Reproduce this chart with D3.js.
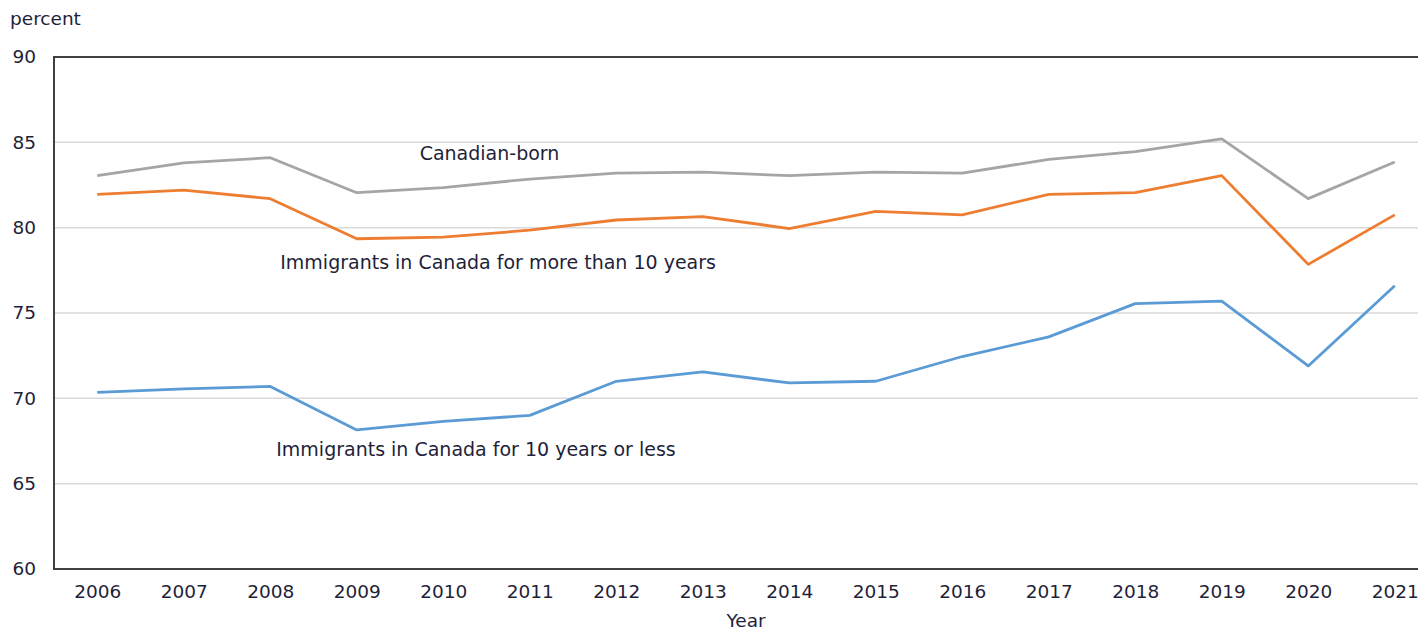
<!DOCTYPE html>
<html>
<head>
<meta charset="utf-8">
<script src="https://cdn.jsdelivr.net/npm/d3@7"></script>
<style>
html,body{margin:0;padding:0;background:#fff;overflow:hidden;}
svg{display:block;font-family:"DejaVu Sans",Verdana,sans-serif;}
</style>
</head>
<body>
<svg id="chart" width="1418" height="633"></svg>
<script>
const years = [2006,2007,2008,2009,2010,2011,2012,2013,2014,2015,2016,2017,2018,2019,2020,2021];
const canadianBorn = [83.05,83.8,84.1,82.05,82.35,82.85,83.2,83.25,83.05,83.25,83.2,84.0,84.45,85.2,81.7,83.85];
const immMore10 = [81.95,82.2,81.7,79.35,79.45,79.85,80.45,80.65,79.95,80.95,80.75,81.95,82.05,83.05,77.85,80.75];
const imm10Less = [70.35,70.55,70.7,68.15,68.65,69.0,71.0,71.55,70.9,71.0,72.45,73.6,75.55,75.7,71.9,76.6];
const yTicks = [60,65,70,75,80,85,90];
const seriesNames = ["Canadian-born","Immigrants in Canada for more than 10 years","Immigrants in Canada for 10 years or less"];
const colors = ["#a5a5a5","#ed7d31","#5b9bd5"];

const svg = d3.select("#chart");
const mLeft = 54, mRight = 1438, mTop = 57, mBottom = 569;
const fs = 18.5, txt = "#1f1f3a";

const x = d3.scalePoint().domain(years).range([mLeft, mRight]).padding(0.5);
const y = d3.scaleLinear().domain([60, 90]).range([mBottom, mTop]);

// gridlines
svg.append("g").selectAll("line").data(yTicks.filter(t => t > 60 && t < 90)).join("line")
  .attr("x1", mLeft).attr("x2", mRight)
  .attr("y1", d => y(d)).attr("y2", d => y(d))
  .attr("stroke", "#d9d9d9").attr("stroke-width", 1.5);

// lines
const line = d3.line().x((d, i) => x(years[i])).y(d => y(d));
[canadianBorn, immMore10, imm10Less].forEach((s, k) => {
  svg.append("path").datum(s).attr("d", line)
    .attr("fill", "none").attr("stroke", colors[k]).attr("stroke-width", 2.8)
    .attr("stroke-linejoin", "round");
});

// frame
svg.append("rect").attr("x", mLeft).attr("y", mTop).attr("width", mRight - mLeft).attr("height", mBottom - mTop)
  .attr("fill", "none").attr("stroke", "#404040").attr("stroke-width", 2);

// y tick labels
const yAxis = svg.append("g").attr("transform", `translate(${mLeft},0)`)
  .call(d3.axisLeft(y).tickValues(yTicks).tickSize(0).tickPadding(18));
yAxis.select(".domain").remove();
yAxis.selectAll("text").attr("font-size", fs).attr("fill", txt).attr("font-family", "DejaVu Sans");

// x tick labels
const xAxis = svg.append("g").attr("transform", `translate(0,${mBottom})`)
  .call(d3.axisBottom(x).tickSize(0).tickPadding(16));
xAxis.select(".domain").remove();
xAxis.selectAll("text").attr("font-size", fs).attr("fill", txt).attr("font-family", "DejaVu Sans");

// axis titles
svg.append("text").attr("x", 10).attr("y", 25).attr("font-size", fs).attr("fill", txt).text("percent");
svg.append("text").attr("x", (mLeft + mRight) / 2).attr("y", 627).attr("text-anchor", "middle")
  .attr("font-size", fs).attr("fill", txt).text("Year");

// series labels
const lbl = [
  {t: seriesNames[0], x: (x(2010) + x(2011)) / 2 + 3, y: y(83.95), a: "middle"},
  {t: seriesNames[1], x: x(2008) + 10, y: y(77.6), a: "start"},
  {t: seriesNames[2], x: x(2008) + 6, y: y(66.6), a: "start"}
];
svg.append("g").selectAll("text").data(lbl).join("text")
  .attr("x", d => d.x).attr("y", d => d.y).attr("text-anchor", d => d.a)
  .attr("font-size", 19).attr("fill", txt).text(d => d.t);
</script>
</body>
</html>
